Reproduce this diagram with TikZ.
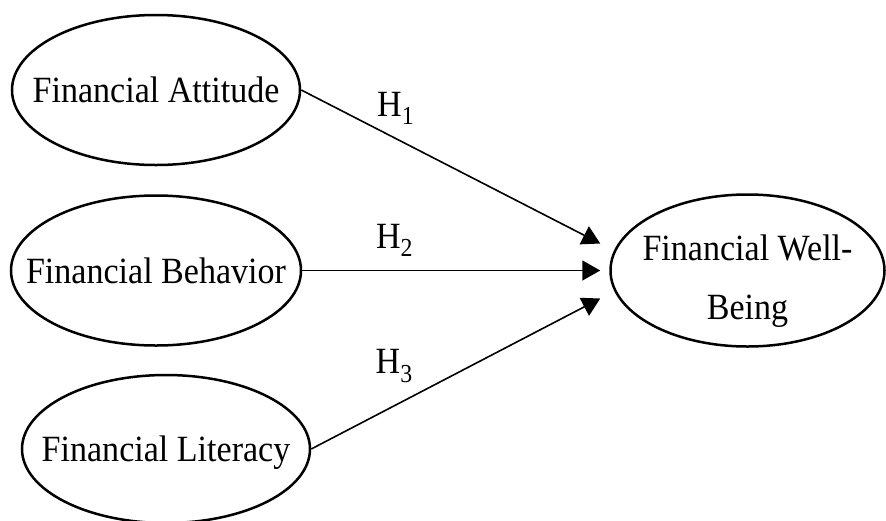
\documentclass[tikz,border=0pt]{standalone}
\usepackage{fontspec}
\setmainfont{Liberation Serif}[FakeStretch=0.92]
\usepackage{tikz}
\usetikzlibrary{positioning, shapes.geometric, arrows.meta}
\tikzset{Construct/.style={%
    shape=ellipse,%
    draw=black,%
    line width=2.5pt,%
    inner sep=0pt,%
    minimum width=288pt,%
    minimum height=150pt,%
    align=center,%
    text depth=0pt,%
    font=\fontsize{37}{43}\selectfont,%
}}
\tikzset{OutcomeConstruct/.style={%
    Construct,%
    text depth=,%
    inner ysep=-10pt,%
    minimum width=274pt,%
    minimum height=152pt,%
    font=\fontsize{37}{59}\selectfont,%
}}
\tikzset{HypEdge/.style={%
    -{Triangle[length=18pt,width=20pt]},%
    line width=1.6pt,%
}}
% keep the ellipse size fixed by the minimum sizes, not by the text
\NewDocumentCommand{\ctext}{m}{\makebox[0pt]{#1}}
\NewDocumentCommand{\hypLabel}{m}{%
    \fontsize{37}{43}\selectfont H\textsubscript{#1}%
}

\begin{document}
\begin{tikzpicture}
    \useasboundingbox (0pt,0pt) rectangle (886pt,-520pt);
    \node[Construct] (fatt) at (156pt,-90pt) {\ctext{Financial Attitude}};
    \node[Construct, below=28pt of fatt, minimum width=290pt] (fbeh) {\ctext{Financial Behavior}};
    \node[Construct, below=27pt of fbeh, xshift=10pt, minimum height=148pt] (flit) {\ctext{Financial Literacy}};
    \node[OutcomeConstruct, right=307pt of fbeh] (fwb) {\rule{0pt}{46pt}\ctext{Financial Well-}\\\ctext{Being}};

    \coordinate (tip1) at ([xshift=-9pt, yshift=27pt]fwb.west);
    \coordinate (tip2) at ([xshift=-9pt]fwb.west);
    \coordinate (tip3) at ([xshift=-9pt, yshift=-28pt]fwb.west);

    \path (fatt.east) edge[HypEdge] node[pos=0.316, yshift=30pt]{\hypLabel{1}} (tip1);
    \path (fbeh.east) edge[HypEdge] node[pos=0.31, yshift=30pt]{\hypLabel{2}} (tip2);
    \path (flit.east) edge[HypEdge] node[pos=0.287, yshift=40pt]{\hypLabel{3}} (tip3);
\end{tikzpicture}
\end{document}
